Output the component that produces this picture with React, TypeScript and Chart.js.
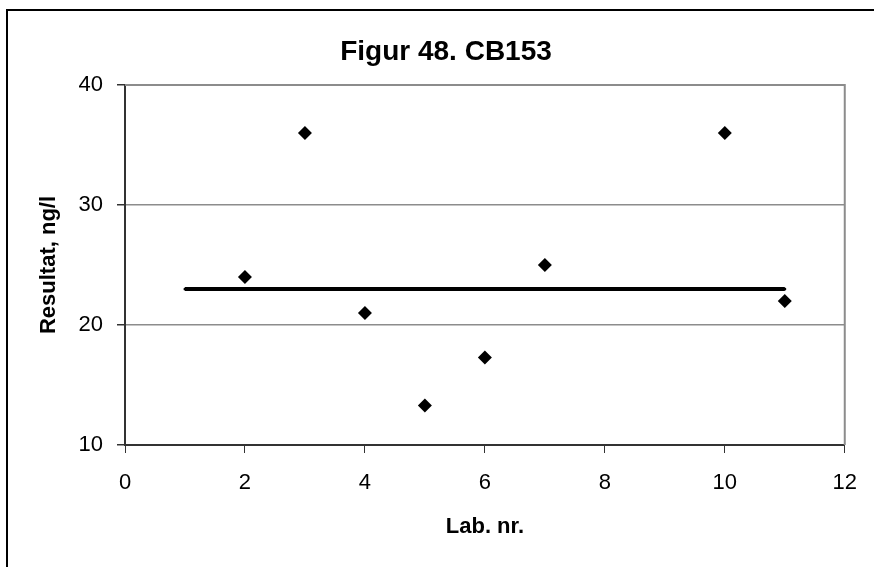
import React, { useEffect, useRef } from "react";
import { Chart, registerables } from "chart.js";

Chart.register(...registerables);

const titleText = "Figur 48. CB153";
const xTitle = "Lab. nr.";
const yTitle = "Resultat, ng/l";

const labNr = [2, 3, 4, 5, 6, 7, 10, 11];
const results = [24, 36, 21, 13.3, 17.3, 25, 36, 22];

const refX = [1, 2, 3, 4, 5, 6, 7, 8, 9, 10, 11];
const refY = [23, 23, 23, 23, 23, 23, 23, 23, 23, 23, 23];

const FONT = "'Liberation Sans', Arial, sans-serif";

const framePlugin = {
  id: "frame",
  beforeDraw(chart: any) {
    const { ctx } = chart;
    ctx.save();
    ctx.fillStyle = "#fff";
    ctx.fillRect(0, 0, chart.width, chart.height);
    ctx.fillStyle = "#000";
    ctx.fillRect(6, 9, 2, chart.height);
    ctx.fillRect(6, 9, chart.width, 2);
    ctx.font = `bold 28px ${FONT}`;
    ctx.textAlign = "center";
    ctx.textBaseline = "alphabetic";
    ctx.fillText(titleText, 446, 60);
    ctx.restore();
  },
  beforeDatasetsDraw(chart: any) {
    const { ctx, chartArea: a } = chart;
    ctx.save();
    ctx.strokeStyle = "#8c8c8c";
    ctx.lineWidth = 2;
    ctx.beginPath();
    ctx.moveTo(a.left, a.top);
    ctx.lineTo(a.right, a.top);
    ctx.lineTo(a.right, a.bottom);
    ctx.stroke();
    ctx.restore();
  },
};

export default function App() {
  const ref = useRef<HTMLCanvasElement>(null);
  useEffect(() => {
    const chart = new Chart(ref.current as HTMLCanvasElement, {
      type: "scatter",
      data: {
        datasets: [
          {
            label: "Referanse",
            data: refX.map((x, i) => ({ x, y: refY[i] })),
            showLine: true,
            borderColor: "#000",
            borderWidth: 4,
            pointStyle: "circle",
            pointRadius: 1.5,
            pointBackgroundColor: "#000",
            pointBorderWidth: 0,
          },
          {
            label: "Resultat",
            data: labNr.map((x, i) => ({ x, y: results[i] })),
            showLine: false,
            pointStyle: "rectRot",
            pointRadius: 7,
            pointBackgroundColor: "#000",
            pointBorderColor: "#000",
            pointBorderWidth: 0,
          },
        ],
      },
      options: {
        animation: false,
        responsive: false,
        maintainAspectRatio: false,
        layout: { padding: { top: 85, right: 27, bottom: 0, left: 0 } },
        plugins: {
          legend: { display: false },
          tooltip: { enabled: false },
          title: { display: false },
        },
        scales: {
          x: {
            type: "linear",
            min: 0,
            max: 12,
            afterFit: (s: any) => {
              s.height = 122;
            },
            ticks: {
              stepSize: 2,
              color: "#000",
              font: { family: FONT, size: 22 },
              padding: 17,
              maxRotation: 0,
            },
            grid: {
              drawOnChartArea: false,
              drawTicks: true,
              tickLength: 8,
              tickColor: "#333",
              color: "#333",
            },
            border: { color: "#333", width: 2 },
            title: {
              display: true,
              text: xTitle,
              color: "#000",
              font: { family: FONT, size: 22, weight: "bold" },
              padding: { top: 0, bottom: 27 },
            },
          },
          y: {
            type: "linear",
            min: 10,
            max: 40,
            afterFit: (s: any) => {
              s.width = 125;
            },
            ticks: {
              stepSize: 10,
              color: "#000",
              font: { family: FONT, size: 22 },
              padding: 14,
            },
            grid: {
              drawTicks: true,
              tickLength: 8,
              tickColor: "#333",
              color: "#8c8c8c",
              lineWidth: 1.5,
            },
            border: { color: "#333", width: 2 },
            title: {
              display: true,
              text: yTitle,
              color: "#000",
              font: { family: FONT, size: 22, weight: "bold" },
              padding: { top: 36, bottom: 0 },
            },
          },
        },
      },
      plugins: [framePlugin],
    });
    return () => chart.destroy();
  }, []);
  return (
    <div style={{ position: "fixed", left: 0, top: 0, width: 874, height: 567 }}>
      <canvas ref={ref} width={874} height={567} style={{ width: 874, height: 567 }} />
    </div>
  );
}
